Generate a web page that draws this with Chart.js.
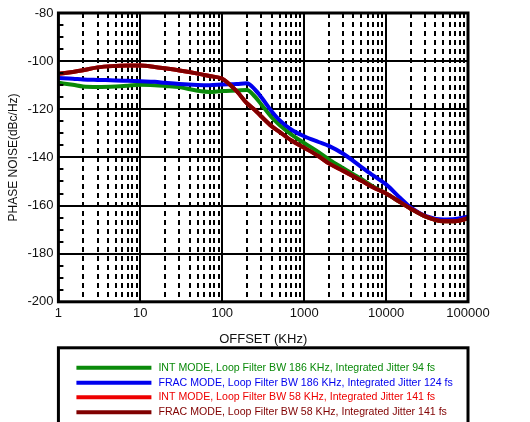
<!DOCTYPE html>
<html>
<head>
<meta charset="utf-8">
<script src="https://cdn.jsdelivr.net/npm/chart.js@4"></script>
<style>
	html, body { margin: 0; padding: 0; background: #fff; }
	#wrap { width: 530px; height: 422px; }
</style>
</head>
<body>
<div id="wrap"><canvas id="chart"></canvas></div>
<script>
// offset frequency (KHz)
const offsetKHz = [1, 1.5, 2, 3, 5, 7, 10, 15, 20, 30, 50, 70, 100, 150, 200, 250, 300, 400, 500, 700,
	1000, 1500, 2000, 3000, 5000, 7000, 10000, 15000, 20000, 30000, 50000, 70000, 100000];

// phase noise (dBc/Hz)
const intWide = [-109.0, -109.8, -110.5, -110.7, -110.5, -110.2, -109.8, -110.0, -110.3, -110.8, -112.3, -112.8, -112.4, -112.2, -112.0, -114.7, -118.0, -123.3, -126.5, -130.5,
	-134.0, -137.8, -140.8, -144.5, -149.0, -152.2, -155.0, -158.7, -161.3, -164.5, -166.5, -166.5, -165.3];
const fracWide = [-107.0, -107.3, -107.6, -107.8, -108.0, -108.2, -108.4, -108.6, -109.0, -109.5, -109.9, -110.0, -109.7, -109.5, -109.2, -111.8, -115.0, -120.8, -124.5, -128.5,
	-131.2, -133.6, -135.2, -138.5, -144.0, -147.6, -151.2, -157.0, -160.8, -164.3, -165.8, -165.6, -164.6];
const intNarrow = [-105.3, -104.5, -103.8, -102.6, -102.0, -101.8, -101.8, -102.4, -103.0, -103.9, -105.2, -106.2, -107.3, -112.5, -117.5, -120.3, -123.0, -127.0, -129.4, -133.0,
	-136.0, -139.5, -142.5, -145.6, -149.7, -152.5, -155.0, -158.7, -161.3, -164.5, -166.5, -166.5, -165.3];
const fracNarrow = [-105.3, -104.5, -103.8, -102.6, -102.0, -101.8, -101.8, -102.4, -103.0, -103.9, -105.2, -106.2, -107.3, -112.5, -117.5, -120.3, -123.0, -127.0, -129.4, -133.0,
	-136.0, -139.5, -142.5, -145.6, -149.7, -152.5, -155.0, -158.7, -161.3, -164.5, -166.5, -166.5, -165.3];

const seriesLabels = [
	'INT MODE, Loop Filter BW 186 KHz, Integrated Jitter 94 fs',
	'FRAC MODE, Loop Filter BW 186 KHz, Integrated Jitter 124 fs',
	'INT MODE, Loop Filter BW 58 KHz, Integrated Jitter 141 fs',
	'FRAC MODE, Loop Filter BW 58 KHz, Integrated Jitter 141 fs'
];
const seriesColors = ['#0a8a0a', '#0000ee', '#ee0000', '#800000'];
const yTicks = [-200, -180, -160, -140, -120, -100, -80];

const toPoints = (vals) => offsetKHz.map((x, i) => ({ x: x, y: vals[i] }));

// frame, minor y ticks and boxed legend
const framePlugin = {
	id: 'frame',
	afterDraw(chart) {
		const { ctx, chartArea: a, scales: { y } } = chart;
		ctx.save();
		ctx.strokeStyle = '#000';
		ctx.lineWidth = 2;
		ctx.beginPath();
		for ( let v = -195; v < -80; v += 5 ) {
			if ( v % 20 === 0 ) continue;
			const py = Math.round( y.getPixelForValue( v ) );
			ctx.moveTo( a.left, py );
			ctx.lineTo( a.left + 5, py );
		}
		ctx.stroke();
		ctx.lineWidth = 3;
		ctx.strokeRect( a.left, a.top, a.right - a.left, a.bottom - a.top );

		// legend box
		const top = a.bottom + 46;
		ctx.strokeRect( a.left, top, a.right - a.left, 100 );
		const rows = [20, 35, 49.5, 64.5];
		ctx.font = '10.6px "Liberation Sans", Arial, sans-serif';
		ctx.textBaseline = 'middle';
		chart.data.datasets.forEach( (ds, i) => {
			const ly = top + rows[i];
			ctx.strokeStyle = ds.borderColor;
			ctx.lineWidth = 4;
			ctx.beginPath();
			ctx.moveTo( a.left + 18, ly );
			ctx.lineTo( a.left + 93, ly );
			ctx.stroke();
			ctx.fillStyle = ds.borderColor;
			ctx.fillText( ds.label, a.left + 100, ly );
		} );
		ctx.restore();
	}
};

const isDecade = (v) => Math.abs( Math.log10( v ) - Math.round( Math.log10( v ) ) ) < 1e-9;

new Chart( document.getElementById( 'chart' ), {
	type: 'line',
	data: {
		datasets: [intWide, fracWide, intNarrow, fracNarrow].map( (vals, i) => ( {
			label: seriesLabels[i],
			data: toPoints( vals ),
			borderColor: seriesColors[i],
			borderWidth: 4,
			pointRadius: 0,
			cubicInterpolationMode: 'monotone',
			fill: false,
			order: 4 - i
		} ) )
	},
	options: {
		responsive: true,
		maintainAspectRatio: false,
		animation: false,
		layout: { padding: { top: 13, right: 62, bottom: 75, left: 6 } },
		plugins: {
			legend: { display: false },
			tooltip: { enabled: false }
		},
		scales: {
			x: {
				type: 'logarithmic',
				min: 1,
				max: 100000,
				afterBuildTicks: (scale) => {
					const ticks = [];
					for ( let d = 1; d < 100000; d *= 10 ) {
						for ( let m = 1; m < 10; m++ ) ticks.push( { value: m * d } );
					}
					ticks.push( { value: 100000 } );
					scale.ticks = ticks;
				},
				ticks: {
					autoSkip: false,
					maxRotation: 0,
					padding: 4,
					color: '#111',
					font: { family: '"Liberation Sans", Arial, sans-serif', size: 13 },
					callback: (v) => isDecade( v ) ? String( v ) : ''
				},
				grid: {
					color: '#000',
					lineWidth: 2,
					drawTicks: false
				},
				border: {
					display: false,
					dash: (ctx) => ( ctx.tick && isDecade( ctx.tick.value ) ) ? [] : [5, 4]
				},
				title: {
					display: true,
					text: 'OFFSET (KHz)',
					color: '#111',
					font: { family: '"Liberation Sans", Arial, sans-serif', size: 13 },
					padding: { top: 6, bottom: 0 }
				}
			},
			y: {
				min: -200,
				max: -80,
				afterBuildTicks: (scale) => {
					scale.ticks = yTicks.map( v => ( { value: v } ) );
				},
				ticks: {
					padding: 5,
					color: '#111',
					font: { family: '"Liberation Sans", Arial, sans-serif', size: 13 }
				},
				grid: {
					color: '#000',
					lineWidth: 2,
					drawTicks: false
				},
				border: { display: false },
				title: {
					display: true,
					text: 'PHASE NOISE(dBc/Hz)',
					color: '#111',
					font: { family: '"Liberation Sans", Arial, sans-serif', size: 12 },
					padding: { top: 0, bottom: 2 }
				}
			}
		}
	},
	plugins: [framePlugin]
} );
</script>
</body>
</html>
